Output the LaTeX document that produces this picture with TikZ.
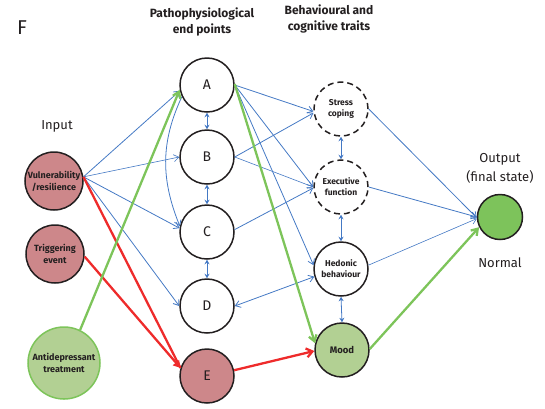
\documentclass[tikz,border=0pt]{standalone}
\usepackage{fontspec}
\setmainfont{Fira Sans}
\usetikzlibrary{arrows.meta}
\definecolor{ink}{HTML}{231F20}
\definecolor{lnblue}{HTML}{4479C4}
\definecolor{lnred}{HTML}{EE2B2B}
\definecolor{lngreen}{HTML}{7DC45A}
\definecolor{rose}{HTML}{CD878A}
\definecolor{sage}{HTML}{B2D093}
\definecolor{leaf}{HTML}{7DC35B}
\tikzset{
  x=1pt, y=-1pt,
  every node/.style={text=ink, font=\fontsize{13}{15}\selectfont},
  endpt/.style={circle, draw=ink, line width=1.5pt, minimum size=54pt, inner sep=0pt, fill=white, font=\fontsize{14}{16}\selectfont},
  trait/.style={circle, draw=ink, line width=1.5pt, minimum size=54pt, inner sep=0pt, fill=white, align=center, font=\bfseries\fontsize{8.5}{11}\selectfont},
  dashtrait/.style={trait, dash pattern=on 6pt off 4pt},
  inbox/.style={circle, draw=ink, line width=1.5pt, minimum size=58pt, inner sep=0pt, fill=rose, align=center, font=\bfseries\fontsize{9}{12}\selectfont},
  title/.style={align=center, font=\bfseries\fontsize{12}{15.5}\selectfont},
  blue/.style={draw=lnblue, line width=0.8pt, -{Straight Barb[length=5pt,width=7pt]}},
  thinblue/.style={blue, line width=0.6pt},
  twoway/.style={draw=lnblue, line width=0.8pt, {Stealth[length=4.5pt,width=5pt]}-{Stealth[length=4.5pt,width=5pt]}},
  twowaybarb/.style={draw=lnblue, line width=0.8pt, {Straight Barb[length=5pt,width=7pt]}-{Straight Barb[length=5pt,width=7pt]}},
  redln/.style={draw=lnred, line width=2.3pt},
  redarrow/.style={redln, -{Straight Barb[length=6pt,width=9pt]}},
  redfill/.style={redln, -{Triangle[length=7pt,width=8pt]}},
  greenarrow/.style={draw=lngreen, line width=2.3pt, -{Straight Barb[length=6pt,width=8pt]}},
}
\begin{document}
\begin{tikzpicture}
\useasboundingbox (0,0) rectangle (545,408);

% headings
\node[font=\fontsize{20}{22}\selectfont] (panel) at (22,28) {F};
\node[title] (hpath) at (202,22) {Pathophysiological\\end points};
\node[title] (hbeh) at (329,19) {Behavioural and\\cognitive traits};
\node (hin) at (57,126) {Input};
\node[align=center, font=\fontsize{13}{19}\selectfont] (hout) at (500,168) {Output\\(final state)};
\node (hnorm) at (500,263) {Normal};

% inputs
\node[inbox] (V) at (54,181) {Vulnerability\\/resilience};
\node[inbox] (T) at (55,254) {Triggering\\event};
\node[inbox, draw=lngreen, fill=sage, minimum size=72pt] (AD) at (64,363) {Antidepressant\\treatment};

% pathophysiological end points
\node[endpt] (A) at (207,85) {A};
\node[endpt] (B) at (207,157) {B};
\node[endpt] (C) at (207,232) {C};
\node[endpt] (D) at (207,306) {D};
\node[endpt, fill=rose] (E) at (207,376) {E};

% behavioural and cognitive traits
\node[dashtrait] (S) at (341,109) {Stress\\coping};
\node[dashtrait] (X) at (341,187) {Executive\\function};
\node[trait] (H) at (341,269) {Hedonic\\behaviour};
\node[trait, fill=sage, font=\bfseries\fontsize{9.5}{12}\selectfont] (M) at (342,350) {Mood};

% final state
\node[circle, draw=ink, line width=1.5pt, minimum size=45pt, fill=leaf] (O) at (500,217) {};

% input to end points
\draw[blue] (V.8) -- (A.192);
\draw[thinblue] (V.8) -- (B.west);
\draw[blue] (V.8) -- (C.172);
\draw[blue] (V.8) -- (D.west);
\draw[blue] (A.205) to[out=245, in=112] (C.168);

% links between end points
\draw[twoway] (A.south) -- (B.north);
\draw[twoway] (B.south) -- (C.north);
\draw[twoway] (C.south) -- (D.north);

% end points to traits
\draw[blue] (A.east) -- (S.185);
\draw[blue] (A.east) -- (X.180);
\draw[blue] (A.east) -- (H.172);
\draw[blue] (B.east) -- (S.188);
\draw[thinblue] (B.east) -- (X.180);
\draw[blue] (C.5) -- (X.182);
\draw[twowaybarb] (D.east) -- (H.196);

% links between traits
\draw[twoway] (S.south) -- (X.north);
\draw[twoway] (X.south) -- (H.north);
\draw[twoway] (H.south) -- (M.north);

% traits to final state
\draw[blue] (S.east) -- (O.182);
\draw[blue] (X.east) -- (O.180);
\draw[thinblue] (H.8) -- (O.184);

% disease and treatment pathways
\draw[redln] (V.8) -- (E.163);
\draw[redfill] (T.-5) -- (E.163);
\draw[redarrow] (E.12) -- (M.182);
\draw[greenarrow] (AD.64) -- (A.190);
\draw[greenarrow] (A.2) -- (M.166);
\draw[greenarrow] (M.2) -- (O.206);
\end{tikzpicture}
\end{document}
